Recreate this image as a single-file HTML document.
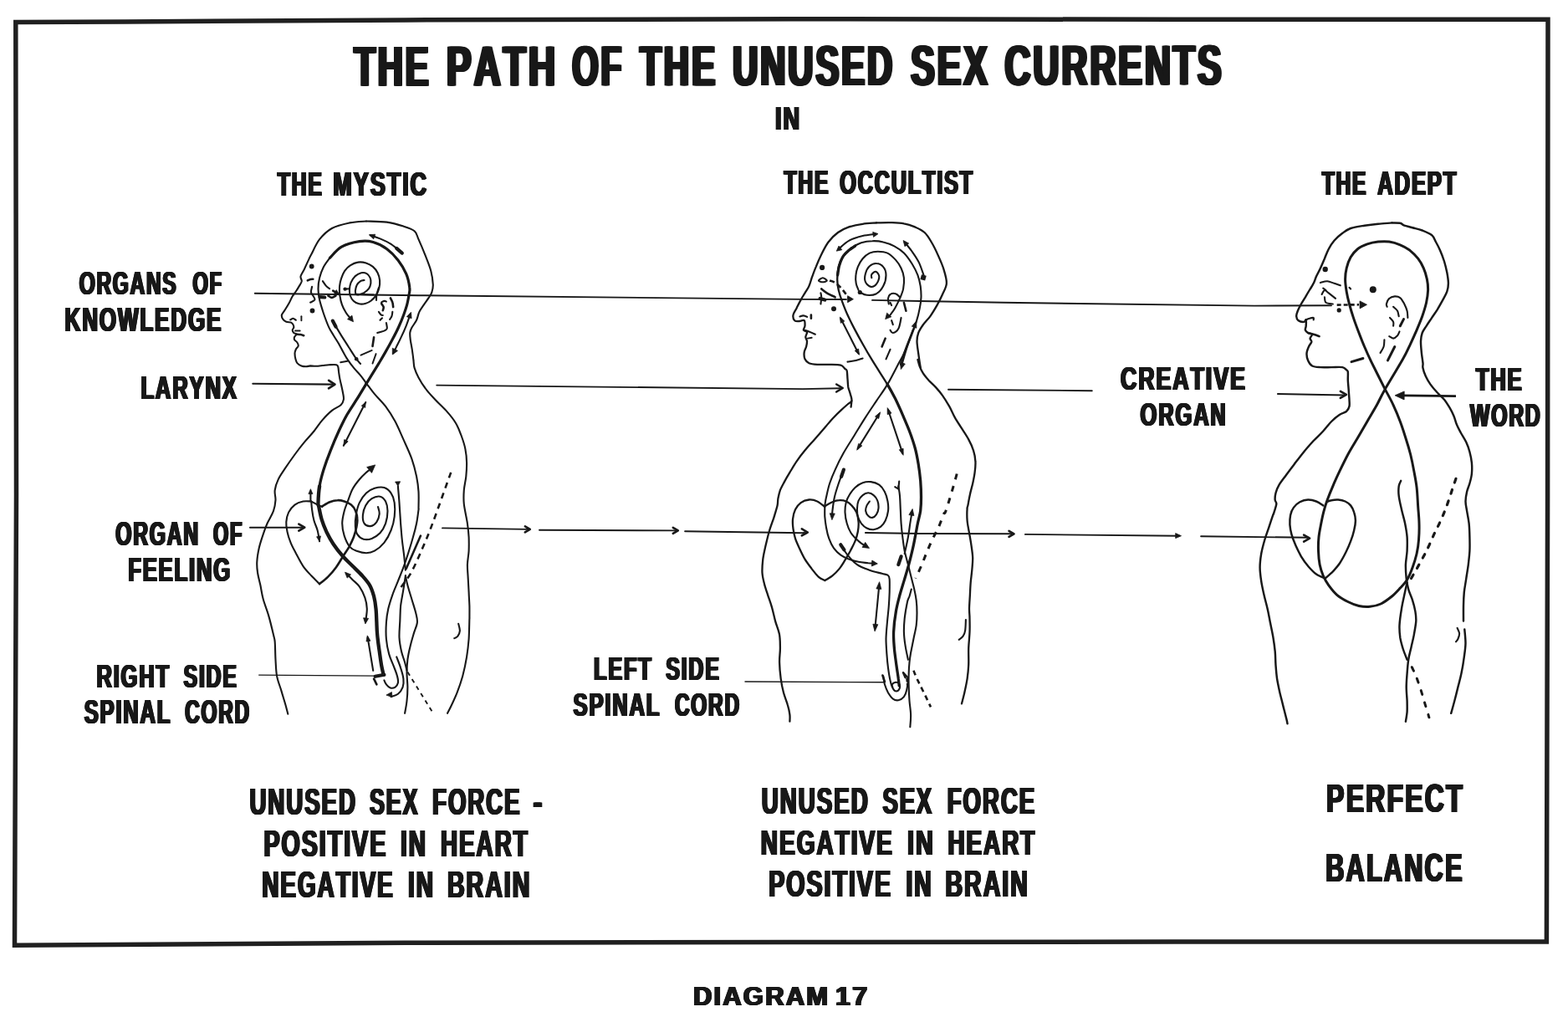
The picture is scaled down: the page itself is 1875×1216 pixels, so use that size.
<!DOCTYPE html>
<html lang="en">
<head>
<meta charset="utf-8">
<title>The Path of the Unused Sex Currents - Diagram 17</title>
<style>
html,body{margin:0;padding:0;background:#fff;}
body{width:1875px;height:1216px;overflow:hidden;}
svg{display:block;}
text{font-family:"Liberation Sans",sans-serif;font-weight:bold;fill:#181818;font-kerning:none;letter-spacing:0.07em;}
.o{fill:none;stroke:#181818;stroke-width:2.1;stroke-linecap:round;stroke-linejoin:round;}
.t{fill:none;stroke:#181818;stroke-width:1.9;stroke-linecap:round;stroke-linejoin:round;}
.k{fill:none;stroke:#181818;stroke-width:4.2;stroke-linecap:round;stroke-linejoin:round;}
.m{fill:none;stroke:#181818;stroke-width:2.6;stroke-linecap:round;stroke-linejoin:round;}
.a{fill:#181818;stroke:#181818;stroke-width:0.8;stroke-linejoin:round;}
.d{fill:#181818;stroke:none;}
.o3{fill:none;stroke:#181818;stroke-width:2.45;stroke-linecap:round;stroke-linejoin:round;}
.o2{fill:none;stroke:#181818;stroke-width:2.3;stroke-linecap:round;stroke-linejoin:round;}
.m2{fill:none;stroke:#181818;stroke-width:3.0;stroke-linecap:round;stroke-linejoin:round;}
</style>
</head>
<body>
<svg width="1875" height="1216" viewBox="0 0 1875 1216">
<defs>
<filter id="thT" x="-2%" y="-2%" width="104%" height="104%" filterUnits="objectBoundingBox" primitiveUnits="userSpaceOnUse" color-interpolation-filters="sRGB"><feOffset in="SourceGraphic" dx="2" dy="0" result="a"/><feOffset in="SourceGraphic" dx="-2" dy="0" result="b"/><feOffset in="SourceGraphic" dx="1" dy="0" result="c"/><feOffset in="SourceGraphic" dx="-1" dy="0" result="e"/><feMerge><feMergeNode in="a"/><feMergeNode in="b"/><feMergeNode in="c"/><feMergeNode in="e"/><feMergeNode in="SourceGraphic"/></feMerge></filter>
<filter id="thM" x="-2%" y="-2%" width="104%" height="104%" filterUnits="objectBoundingBox" primitiveUnits="userSpaceOnUse" color-interpolation-filters="sRGB"><feOffset in="SourceGraphic" dx="1.4" dy="0" result="a"/><feOffset in="SourceGraphic" dx="-1.4" dy="0" result="b"/><feOffset in="SourceGraphic" dx="0.7" dy="0" result="c"/><feOffset in="SourceGraphic" dx="-0.7" dy="0" result="e"/><feMerge><feMergeNode in="a"/><feMergeNode in="b"/><feMergeNode in="c"/><feMergeNode in="e"/><feMergeNode in="SourceGraphic"/></feMerge></filter>
<filter id="thS" x="-2%" y="-2%" width="104%" height="104%" filterUnits="objectBoundingBox" primitiveUnits="userSpaceOnUse" color-interpolation-filters="sRGB"><feOffset in="SourceGraphic" dx="1.3" dy="0" result="a"/><feOffset in="SourceGraphic" dx="-1.3" dy="0" result="b"/><feOffset in="SourceGraphic" dx="0.7" dy="0" result="c"/><feOffset in="SourceGraphic" dx="-0.7" dy="0" result="e"/><feMerge><feMergeNode in="a"/><feMergeNode in="b"/><feMergeNode in="c"/><feMergeNode in="e"/><feMergeNode in="SourceGraphic"/></feMerge></filter>
<filter id="thD" x="-2%" y="-2%" width="104%" height="104%" filterUnits="objectBoundingBox" primitiveUnits="userSpaceOnUse" color-interpolation-filters="sRGB"><feOffset in="SourceGraphic" dx="1.1" dy="0" result="a"/><feOffset in="SourceGraphic" dx="-1.1" dy="0" result="b"/><feOffset in="SourceGraphic" dx="0.6" dy="0" result="c"/><feOffset in="SourceGraphic" dx="-0.6" dy="0" result="e"/><feMerge><feMergeNode in="a"/><feMergeNode in="b"/><feMergeNode in="c"/><feMergeNode in="e"/><feMergeNode in="SourceGraphic"/></feMerge></filter>
</defs>
<rect width="1875" height="1216" fill="#fff"/>
<path d="M18.8 26.5L150 26L485 23.9L945 22.7L1405 23.3L1851 23.3L1850.6 590L1849.4 1126.1L1405 1126L945 1126.5L485 1127.3L17.5 1130.2L19.5 590Z" fill="none" stroke="#202020" stroke-width="5.5" stroke-linejoin="miter"/>
<g id="fig1">
<path class="o" d="M438 264.5C434.7 264.8 425.1 265 418.3 266.4C411.4 267.9 402.9 269.7 396.9 273C390.9 276.3 386.2 281 382.1 286.2C378 291.4 374.4 300.3 372.2 304.3C370.1 308.2 370.8 306.9 369.4 309.9C368 312.9 365.3 318.8 363.7 322.2C362 325.6 360 328.1 359.5 330.4C359.1 332.8 361 334.3 360.8 336.2C360.5 338.1 359.1 339.9 357.9 341.9C356.7 344 355.2 346.5 353.8 348.5C352.4 350.6 351 351.9 349.7 354.3C348.3 356.6 347.1 359.8 345.6 362.5C344.1 365.2 342.1 368.4 340.6 370.7C339.2 373.1 337.3 374.7 336.9 376.5C336.5 378.3 337.3 380.1 338.2 381.5C339 382.9 340.6 384.1 342.3 384.8C343.9 385.5 346.7 385.1 348 385.6C349.4 386.2 349.9 387.1 350.5 388.1C351 389.1 351.5 390.3 351.3 391.4C351.2 392.5 349.7 393.6 349.7 394.7C349.7 395.8 350.5 397.1 351.3 398C352.1 398.8 354.5 398.8 354.6 399.6C354.7 400.4 352.5 401.8 352.1 402.9C351.7 404 351.6 405.1 352.1 406.2C352.7 407.3 354.7 408.2 355.4 409.5C356.2 410.7 356.9 412.2 356.7 413.6C356.4 415 354.5 416.2 353.8 417.7C353.1 419.2 352.6 420.7 352.5 422.6C352.5 424.6 352.9 427.3 353.4 429.2C353.9 431.1 354.3 432.8 355.4 434.1C356.6 435.5 358.6 436.7 360.4 437.4C362.1 438.1 364.3 438.3 366.1 438.3C367.9 438.3 369.1 437.5 371.1 437.4C373 437.4 375.2 437.9 377.6 437.8C380.1 437.8 383.3 437.3 385.9 437C388.5 436.7 390.5 436.3 393.3 436.2C396 436.1 400.5 435.7 402.3 436.2C404.2 436.7 403.9 437.5 404.4 439.1C404.8 440.7 404.8 443.3 405.2 445.7C405.5 448 405.9 450.6 406.4 453.1C406.9 455.5 407.4 457.6 408.1 460.5C408.7 463.3 409.6 467.1 410.1 470C410.6 472.9 411.3 475.3 410.9 477.7C410.5 480.1 409.9 482.1 407.6 484.3C405.3 486.5 400.6 487.8 396.9 490.9C393.2 493.9 389 498.3 385.4 502.4C381.8 506.5 379.1 511.1 375.5 515.5C372 519.9 367.9 524 364 528.7C360.2 533.3 356.3 538.3 352.5 543.5C348.7 548.7 344.3 555 341 559.9C337.7 564.9 334.8 568.7 332.8 573.1C330.7 577.5 329.2 582.1 328.7 586.2C328.1 590.4 329.7 593.7 329.5 597.8C329.2 601.9 328.7 606.2 327 610.9C325.4 615.6 321.7 621.1 319.6 625.8C317.5 630.5 316.3 634 314.7 638.9C313 643.9 311 649.9 309.7 655.4C308.5 660.9 307.5 666.9 307.3 671.8C307 676.8 307.4 680.3 308.1 685C308.8 689.7 310.3 694.6 311.4 699.8C312.5 705 313 710.2 314.7 716.2C316.3 722.3 319.2 728.9 321.2 736.1C323.3 743.2 325.8 753.9 327 759.1C328.2 764.3 328.2 762.4 328.7 767.3C329.1 772.2 329.1 781.8 329.5 788.7C329.9 795.5 330 802.4 331.1 808.4C332.2 814.5 334.4 819.4 336.1 824.9C337.7 830.4 339.6 836.5 341 841.3C342.4 846.1 343.7 851.6 344.3 853.7"/>
<path class="o" d="M438 264.5C442.1 264.7 455.3 264.6 462.7 265.6C470.1 266.6 477 268.8 482.4 270.6C487.9 272.3 492.6 273.7 495.6 276.3C498.6 278.9 498.3 281.2 500.5 286.2C502.7 291.1 506.3 299.6 508.8 305.9C511.2 312.2 513.8 318.3 515.3 324C516.8 329.8 517.6 336.2 517.8 340.5C517.9 344.8 517 347.3 516.2 349.9C515.4 352.4 514.4 353.3 512.9 355.6C511.4 358 509.1 361 507.2 363.8C505.3 366.7 502.9 369.7 501.4 372.9C499.9 376 499.6 379.6 498.1 382.8C496.6 385.9 493.7 389.3 492.4 391.8C491.1 394.3 490.6 395.2 490.3 397.6C490 399.9 490.3 402.4 490.7 405.8C491.1 409.2 492.2 414 492.8 418.1C493.4 422.2 494 426.8 494.4 430.5C494.9 434.1 494.6 436.4 495.6 439.9C496.6 443.4 498.3 447.3 500.5 451.4C502.7 455.5 505.5 460.2 508.8 464.5C512 468.9 516.2 473.3 520.3 477.7C524.4 482.1 529.3 486.2 533.4 490.9C537.5 495.5 541.9 500.7 544.9 505.7C547.9 510.6 549.6 515.3 551.5 520.5C553.4 525.7 555.4 531.4 556.4 536.9C557.5 542.4 558 547.9 558.1 553.4C558.2 558.8 557.8 564.3 557.3 569.8C556.7 575.3 555.2 580.8 554.8 586.2C554.4 591.7 554.1 596.1 554.8 602.7C555.5 609.3 558 619.2 558.9 625.8C559.9 632.4 560.3 636.8 560.6 642.2C560.8 647.7 560.8 653.2 560.6 658.7C560.3 664.2 559.1 669.6 558.9 675.1C558.8 680.6 559.5 686.1 559.7 691.6C560 697.1 560.3 702.5 560.6 708C560.8 713.5 561.2 719.3 561.4 724.5C561.5 729.7 561.4 736.9 561.4 739.3C561.4 741.8 561.5 735.2 561.4 739.3C561.2 743.5 561.1 756.3 560.6 764C560 771.7 559.3 778 558.1 785.4C556.9 792.8 555.1 801.3 553.2 808.4C551.2 815.5 548.8 822.4 546.6 828.2C544.4 833.9 541.9 838.8 540 843C538.1 847.1 535.9 851.2 535.1 852.8"/>
<path class="k" style="stroke-width:3.2" d="M394.4 308.4C396.8 306.2 402.5 298.5 408.4 295.2C414.3 291.9 423.5 289.6 429.8 288.7C436.1 287.7 440.8 288 446.2 289.5C451.7 291 457.8 294.1 462.7 297.7C467.6 301.3 472 305.9 475.9 310.9C479.7 315.8 483.4 321.8 485.7 327.3C488.1 332.8 489.3 339.6 489.8 343.8C490.4 347.9 489.6 348.8 489.1 352.3C488.5 355.8 487.7 360.6 486.6 364.7C485.5 368.8 484.1 372.6 482.5 377C480.9 381.4 478.9 386.2 476.7 391C474.6 395.8 471.9 400.9 469.3 405.8C466.7 410.7 463.9 415.8 461.1 420.6C458.4 425.4 456.7 428.2 452.9 434.6C449 440.9 442.4 451.6 438 458.8"/>
<path class="k" style="stroke-width:3.3" d="M438 458.8C433.6 466 430.4 471.5 426.5 477.7C422.7 483.9 418.6 489.5 415 495.8C411.4 502.1 408.4 508.4 405.1 515.5C401.8 522.7 398.3 530.9 395.3 538.6C392.2 546.2 389.2 554.5 387 561.6C384.8 568.7 383.2 574.7 382.1 581.3"/>
<path class="k" style="stroke-width:4.3" d="M382.1 581.3C381 587.9 380.6 596.9 380.5 601.1C380.3 605.2 380.6 602.8 381.3 606.1C382 609.4 383.1 615.9 384.6 620.9C386.1 625.8 388 630.7 390.3 635.7C392.7 640.6 395.3 645.5 398.6 650.5C401.8 655.4 406.2 660.9 410.1 665.3C413.9 669.6 417.7 672.9 421.6 676.8C425.4 680.6 429.7 684.5 433.1 688.3C436.5 692.1 439.8 695.7 442.1 699.8C444.5 703.9 445.8 708.3 447.1 713C448.3 717.6 449 722.6 449.5 727.8C450.1 733 450.1 739 450.4 744.2C450.6 749.4 450.6 753.3 451.2 759.1C451.7 764.8 452.8 772.8 453.7 778.8C454.5 784.8 455.3 790.6 456.1 795.3C456.9 799.9 458.2 804.9 458.6 806.8"/>
<path class="k" d="M448.7 808.8L459.4 806.8"/>
<path class="m" d="M447.1 811.7L450.4 818.3"/>
<path class="o" d="M394.4 308.4C393.2 310.2 389.1 315.1 387 319.1C385 323.1 383.2 327.9 382.1 332.2C381 336.6 380.5 341 380.5 345.4C380.5 349.8 381 353.6 382.1 358.6C383.2 363.5 385.2 369.5 387 375C388.9 380.5 391.3 387 393.3 391.4C395.3 395.8 397 397.8 399 401.2C401.1 404.7 403.5 408.4 405.6 411.9C407.6 415.5 409.6 419.5 411.3 422.6C413.1 425.8 414.2 427.8 416.3 430.9C418.3 433.9 421.2 437.7 423.7 440.7C426.2 443.7 428.6 445.9 431.1 448.9C433.6 452 435.7 455.1 438.5 458.8C441.3 462.5 444.1 466.6 447.9 471.1C451.7 475.6 456.9 480.4 461.1 485.9C465.2 491.4 469 497.4 472.6 504C476.1 510.6 479.1 518 482.4 525.4C485.7 532.8 489.7 541 492.3 548.4C494.9 555.8 496.7 563.2 498.1 569.8C499.4 576.4 500.1 581.6 500.5 587.9C500.9 594.2 500.5 604.1 500.5 607.6C500.5 611.2 500.9 606.3 500.5 609.3C500.1 612.4 499.2 620.3 498.1 625.8C497 631.3 495.5 636.8 493.9 642.2C492.4 647.7 490.9 652.7 489 658.7C487.1 664.7 484.6 672.4 482.4 678.4C480.2 684.5 478 689.4 475.9 694.9C473.7 700.4 471.2 705.8 469.3 711.3C467.4 716.8 465.6 722.3 464.3 727.8C463.1 733.2 462.3 738.2 461.9 744.2C461.5 750.3 461.3 757.7 461.9 764C462.4 770.3 463.7 776.6 465.2 782.1C466.7 787.6 469.3 792.5 470.9 796.9C472.6 801.3 474.2 805.1 475 808.4C475.9 811.7 476.3 814.5 475.9 816.6C475.4 818.8 474.1 820.6 472.6 821.6C471.1 822.5 468.6 822.9 466.8 822.4C465 821.9 463.1 819.8 461.9 818.3C460.6 816.8 459.8 814.2 459.4 813.4"/>
<path class="o" d="M419.6 381.4C418.6 380.2 415.6 376.9 413.8 374C412 371.1 410.1 367.6 408.9 364.1C407.6 360.7 406.9 357 406.4 353.5C405.9 349.9 405.7 346.2 406 342.8C406.3 339.3 407 336 408.1 332.9C409.1 329.7 410.4 326.5 412.2 323.8C414 321.2 416.1 319 418.8 317.3C421.4 315.6 424.6 314 427.8 313.6C430.9 313.1 434.6 313.5 437.7 314.4C440.7 315.3 443.6 316.9 445.9 318.9C448.2 320.9 450.3 323.6 451.6 326.3C453 329.1 453.8 332.3 454.1 335.4C454.4 338.4 454 341.5 453.3 344.4C452.6 347.3 451.5 350.2 450 352.6C448.5 355.1 446.4 357.5 444.2 359.2C442.1 360.9 439.3 362.2 436.8 362.9C434.4 363.6 431.8 363.8 429.4 363.3C427.1 362.8 424.6 361.7 422.9 360C421.1 358.4 419.6 355.8 418.8 353.5C417.9 351.1 417.8 348.7 417.9 346.1C418.1 343.4 418.5 340.4 419.6 337.8C420.7 335.2 422.5 332.3 424.5 330.4C426.6 328.5 429.6 326.9 431.9 326.3C434.2 325.8 436.7 326.2 438.5 327.1C440.3 328.1 441.8 330.2 442.6 332.1C443.4 334 443.7 336.5 443.4 338.7C443.1 340.8 442.3 343.3 441 345.2C439.6 347.1 437.1 349 435.2 350.2C433.3 351.3 431 351.9 429.4 352.2C427.9 352.5 426.5 352.6 425.7 351.8C425 351.1 424.8 349.5 424.9 347.7C425.1 345.9 425.5 343 426.6 341.1C427.6 339.2 429.6 337.2 431.1 336.2C432.6 335.2 434.9 335.2 435.6 335"/>
<path class="a" d="M422.5 384.7L415.5 381.6L420.9 377.2Z"/>
<path class="o" d="M425.7 351.8L446.7 352.6"/>
<circle class="d" cx="372.7" cy="318.5" r="2.9"/>
<circle class="d" cx="373.5" cy="371.5" r="2.9"/>
<circle class="d" cx="412.6" cy="345.6" r="2.2"/>
<path class="o" d="M412.6 345.6L417.9 345.2"/>
<path class="m" d="M367.8 335.4C368.3 335.1 370 334.2 371.1 333.9C372.1 333.6 373.8 333.7 374.3 333.7"/>
<path class="o" d="M373.1 342.8C372.9 343.9 371.7 347.6 371.9 349.3C372.1 351.1 373.6 351.9 374.3 353.5C375.1 355 376.9 357 376.4 358.4C375.8 359.8 371.9 361.1 371.1 361.7"/>
<path class="o" d="M385.9 336.2C386.5 337.1 388.6 340.4 390 341.9C391.3 343.4 393.4 344.7 394.1 345.2"/>
<path class="m" d="M398.2 347.7L403.9 351"/>
<path class="a" d="M405.2 351.8L399.3 351.8L402.3 346.6Z"/>
<path class="k" d="M382.6 355.1L388.3 355.5"/>
<path class="m" d="M392.4 353.5C393.1 353.9 395 355.9 396.5 355.9C398.1 355.9 400.7 353.9 401.5 353.5"/>
<path class="o" d="M347.2 382.3C347.8 382.1 349.4 380.6 350.5 380.7C351.6 380.8 353.2 382.4 353.8 382.7"/>
<path class="t" d="M360.4 378.2L360.4 383.2"/>
<path class="t" d="M353 395.5L358.7 395.5"/>
<path class="m" d="M354.6 399.6C355.4 399.7 358.1 399.7 359.5 400C361 400.3 362.6 401 363.2 401.2"/>
<path class="o" d="M452.9 344.1C452.5 345.5 450.9 349.9 450.4 352.3C449.9 354.8 450.1 357.8 450 358.9"/>
<path class="m" d="M466.9 356.4C467.3 357.3 468.8 359.6 469.3 361.4C469.9 363.2 470 366.2 470.2 367.1"/>
<path class="o" d="M456.2 361.4C456.7 361.1 458.5 359.9 459.5 359.7C460.4 359.6 461.5 360.4 461.9 360.6"/>
<path class="m" d="M456.2 363C456.6 363.7 458.4 365.8 458.7 367.1C458.9 368.5 458 370.6 457.8 371.2"/>
<path class="o" d="M452.9 372.9C453.3 373.4 454.5 375.5 455.4 376.2C456.2 376.9 457.4 376.9 457.8 377"/>
<path class="o" d="M469.3 372.9C469.2 373.7 469.1 376.3 468.5 377.8C468 379.3 466.5 381.3 466.1 381.9"/>
<path class="o" d="M454.5 382.8L457 380.3"/>
<path class="o" d="M461.9 386.1C462.1 387.1 463 391.1 462.8 392.6C462.5 394.1 462.2 394.2 460.3 395.1C458.4 396 452.8 397.5 451.2 398"/>
<path class="m" d="M447.1 403.3L445.5 414"/>
<path class="t" d="M444.7 418.9L431.5 424.7"/>
<path class="t" d="M449.6 423.1L445.5 434.6"/>
<path class="t" d="M407.2 433.3L415.5 431.7"/>
<path class="o" d="M490.7 375.4C489.9 377.7 487.7 384.5 485.8 389.3C483.9 394.1 481.3 399.8 479.2 404.1C477.2 408.5 475 412.6 473.5 415.7C471.9 418.7 470.7 421.1 470.2 422.2"/>
<path class="a" d="M491.5 373.3L492.1 380.7L486.4 378.7Z"/>
<path class="a" d="M469.3 423.9L469.3 416.2L475.5 419.4Z"/>
<path class="o" d="M397.4 383.2C399 385.9 403.9 394.3 407.2 399.6C410.5 405 414 410.3 417.1 415.2C420.3 420.2 423.8 425.9 426.2 429.2C428.5 432.5 430.3 434 431.1 435"/>
<path class="k" d="M397.8 383.6L401.5 390.6"/>
<circle class="d" cx="426.2" cy="429.2" r="2.3"/>
<path class="o" d="M443 281.2C444.9 281.9 450.4 283.6 454.5 285.4C458.6 287.1 463.2 289.1 467.6 291.9C472 294.8 478.6 300.8 480.8 302.6"/>
<path class="a" d="M441.3 280.8L448.7 280.2L446.7 285.8Z"/>
<path class="k" d="M474.2 296.9L480.8 302.6"/>
<path class="o" d="M302.3 458.8L398.6 459.6"/>
<path class="m" d="M393 464.3L400.5 459.6L393.1 454.8"/>
<path class="o" d="M437.2 481L410.9 532.8"/>
<path class="a" d="M437.2 481L436.7 487.4L432.3 485.2Z"/>
<path class="a" d="M410.9 532.8L411.7 525.6L416.2 527.9Z"/>
<path class="o" d="M371.4 599.5L371.4 588"/>
<path class="a" d="M371.4 584.7L373.9 590.6L368.9 590.6Z"/>
<path class="o" d="M372.2 599.5C370.6 599.5 365.7 598.8 362.4 599.5C359.1 600.2 355.4 601.4 352.5 603.6C349.6 605.8 346.8 609.2 345.1 612.6C343.4 616.1 342.6 620.3 342.3 624.1C342 628 342.6 631.5 343.5 635.7C344.3 639.8 345.8 644.4 347.6 648.8C349.3 653.2 351.7 657.3 354.1 662C356.6 666.6 359.4 672.4 362.4 676.8C365.4 681.2 368.9 684.7 372.2 688.3C375.5 691.9 380.5 696.5 382.1 698.2"/>
<path class="m" d="M382.1 698.2C383.8 696.8 388.7 693.2 392 689.9C395.3 686.6 398.8 682.5 401.8 678.4C404.9 674.3 407.5 669.4 410.1 665.3C412.7 661.2 415.3 657.6 417.5 653.8C419.6 649.9 421.4 646.1 422.9 642.2C424.3 638.4 425.4 634.3 426.2 630.7C426.9 627.2 427.5 624.1 427.3 620.9C427.2 617.6 426.4 613.9 425.2 611C424 608.1 422.2 605.5 419.9 603.6C417.7 601.7 414.5 600.4 411.7 599.5C409 598.6 406.4 598 403.5 598.2C400.6 598.3 397.5 599.1 394.4 600.3C391.4 601.5 386.9 604.4 385.4 605.2"/>
<path class="o" d="M385.4 606.1C384.4 605.6 381.8 604.7 379.6 603.6C377.4 602.5 373.5 600.2 372.2 599.5"/>
<path class="o" d="M372.2 599.5C372.4 601.1 372.5 605.5 373.1 609.3C373.6 613.2 374.4 618.4 375.5 622.5C376.6 626.6 378.5 629.9 379.6 634C380.7 638.1 381.7 645 382.1 647.2"/>
<path class="a" d="M382.1 647.2L378.6 641.8L383.5 640.9Z"/>
<path class="o" d="M299 630.7L362.4 630.7"/>
<path class="m" d="M357.3 634.7L364.3 630.7L357.3 626.7"/>
<path class="o" d="M452 606.1C452.3 607.4 453.9 611.3 453.7 614.3C453.4 617.3 452.1 621.7 450.4 624.1C448.6 626.6 445.4 628.8 443 629.1C440.5 629.4 437.1 628 435.6 625.8C434.1 623.6 433.6 619.5 433.9 615.9C434.2 612.4 435.4 607.7 437.2 604.4C439 601.1 441.7 598 444.6 596.2C447.5 594.4 451.7 593.2 454.5 593.7C457.2 594.3 459.5 596.6 461.1 599.5C462.6 602.4 463.5 606.6 463.5 611C463.5 615.4 462.6 621.4 461.1 625.8C459.5 630.2 457.2 634.3 454.5 637.3C451.7 640.3 447.9 642.6 444.6 643.9C441.3 645.1 437.6 645.5 434.7 644.7C431.9 643.9 429 641.6 427.3 638.9C425.7 636.3 425.1 632.9 424.9 629.1C424.6 625.2 424.9 620.6 425.7 615.9C426.5 611.3 427.7 605.5 429.8 601.1C431.9 596.7 435 592.5 438 589.6C441 586.7 444.3 584.9 447.9 583.8C451.5 582.8 456.1 582.1 459.4 583C462.7 584 465.6 586.6 467.6 589.6C469.7 592.6 471.1 596.5 471.7 601.1C472.4 605.8 472.4 612.1 471.7 617.6C471.1 623 469.7 628.8 467.6 634C465.6 639.2 462.7 644.7 459.4 648.8C456.1 652.9 451.5 656.6 447.9 658.7C444.3 660.7 441.6 661.2 438 661.2C434.5 661.2 429.8 659.9 426.5 658.7C423.2 657.5 420.8 656.8 418.3 653.8C415.8 650.7 413.2 645.3 411.7 640.6C410.2 635.9 409.2 630.7 409.2 625.8C409.2 620.9 410.6 615.4 411.7 611C412.8 606.6 414.2 603.9 415.8 599.5C417.5 595.1 419.2 589.1 421.6 584.7C423.9 580.3 427.1 576.4 429.8 573.2C432.5 569.9 435.7 567 438 564.9C440.4 562.9 442.8 561.5 443.8 560.8"/>
<path class="a" d="M448.7 555.9L444.5 565.4L438.7 558.5Z"/>
<path class="o" d="M475.9 581.4C476.1 584.7 477 593.7 477.5 601.1C478 608.5 478.6 618.4 479.1 625.8C479.7 633.2 480.1 638.9 480.8 645.5C481.5 652.1 482.6 659.2 483.3 665.3C483.9 671.3 484.6 679 484.9 681.7"/>
<path class="a" d="M475.9 581.1L472.6 576.1L478.6 575.8Z"/>
<path class="k" d="M485.7 680.1L503 640.6" style="stroke-width:2.6"/>
<path class="o" d="M484.9 688.3C485.3 690.2 486.1 695.1 487.4 699.8C488.6 704.5 490.7 710.8 492.3 716.2C493.9 721.7 496.1 728.1 497.2 732.8C498.3 737.4 499.3 740.2 498.9 744.3C498.5 748.4 496.1 752.8 494.8 757.4C493.4 762.1 491.9 767 490.7 772.2C489.4 777.4 488.1 783.2 487.4 788.7C486.7 794.2 486.5 799.6 486.5 805.1C486.5 810.6 487.4 816.1 487.4 821.6C487.4 827.1 487.1 832.8 486.5 838C486 843.2 484.5 850.4 484.1 852.8"/>
<path class="o" d="M484.9 688.3C484.5 691 483.4 698.7 482.4 704.7C481.5 710.8 479.8 718.2 479.1 724.5C478.5 730.8 478.6 736.3 478.3 742.6C478 748.9 477.2 756.3 477.5 762.4C477.8 768.4 478.9 773.9 480 778.8C481.1 783.8 483 788.1 484.1 792C485.2 795.8 486.1 800.2 486.5 801.8"/>
<path class="o" d="M474.2 785.4C475 787.6 477.8 794.2 479.1 798.6C480.5 802.9 482 807.9 482.4 811.7C482.8 815.5 482.7 818.6 481.6 821.6C480.5 824.6 478.2 827.9 475.9 829.8C473.5 831.7 469 832.5 467.6 833.1"/>
<path class="a" d="M461.9 831.1L468.4 827.5L468.9 833.5Z"/>
<path class="m" d="M539.2 564.9C536 573.7 525.3 603.8 520.3 617.6C515.2 631.3 513.4 636.2 508.8 647.2C504.1 658.1 497.5 673.8 492.3 683.4C487.1 692.9 480 701.2 477.5 704.7" stroke-dasharray="7 6" style="stroke-linecap:butt"/>
<path class="t" d="M487.4 803.5L517 851.2" stroke-dasharray="5 5" style="stroke-linecap:butt"/>
<path class="o" d="M414.2 685.8C415.4 687.1 419 690.6 421.6 693.2C424.2 695.8 427.3 697.9 429.8 701.4C432.3 705 434.9 710.2 436.4 714.6C437.9 719 438.7 723.1 438.8 727.8C439 732.4 437.5 740.1 437.2 742.6"/>
<path class="a" d="M412.5 684.2L419.5 686.9L415.2 691.1Z"/>
<path class="a" d="M436.9 745.9L434.6 738.8L440.6 739.4Z"/>
<path class="o" d="M446.2 801.8L439.7 762.4"/>
<path class="a" d="M439.3 759.9L442.9 766.2L438 767Z"/>
<path class="t" d="M309.7 807.1L448.7 808.1" style="stroke-width:1.4"/>
<path class="o" d="M548.2 745.9C548.5 747.3 550 751.7 549.9 754.1C549.7 756.6 548.5 759.2 547.4 760.7C546.3 762.2 544 762.8 543.3 763.2"/>
</g>
<g id="fig2">
<path class="o2" d="M1048 266.4C1045.3 266.7 1037.1 266.9 1031.6 267.8C1026.1 268.6 1020.1 269.7 1015.1 271.4C1010.2 273.1 1006.1 274.9 1002 278C997.9 281 993.8 285.1 990.5 289.5C987.2 293.9 984.7 299.3 982.2 304.3C979.8 309.2 977.6 314.4 975.7 319.1C973.7 323.7 972.1 328.4 970.7 332.2C969.4 336.1 968.8 339.1 967.4 342.1C966.1 345.1 964.1 347.6 962.5 350.3C960.9 353.1 959.2 355.5 957.6 358.6C955.9 361.6 954.1 365.4 952.6 368.4C951.1 371.4 948.9 374.2 948.5 376.6C948.1 379.1 948.9 382 950.2 383.2C951.4 384.5 954 384 955.9 384C957.8 384 960.6 382.3 961.7 383.2C962.8 384.2 962.6 387.9 962.5 389.8C962.4 391.7 960.4 393.5 960.9 394.7C961.3 396 964.6 395.8 965 397.2C965.4 398.6 963.3 401.2 963.3 403C963.3 404.7 964.8 406 965 407.9C965.1 409.8 964.7 412.3 964.1 414.5C963.6 416.7 962 418.6 961.7 421.1C961.4 423.5 961.5 427.1 962.5 429.3C963.5 431.5 965 433.1 967.4 434.2C969.9 435.3 973.2 435.6 977.3 435.9C981.4 436.1 987.4 435.7 992.1 435.9C996.8 436 1002.2 435.9 1005.3 436.7C1008.3 437.5 1009 439.7 1010.2 440.8C1011.4 441.9 1012.1 441.1 1012.7 443.2C1013.2 445.2 1013.2 449.7 1013.5 453C1013.8 456.3 1013.8 459.9 1014.3 462.9C1014.9 465.9 1016.1 468.4 1016.8 471.1C1017.5 473.9 1019 477.3 1018.4 479.3C1017.9 481.4 1015.7 481.5 1013.5 483.5C1011.3 485.4 1008.3 488 1005.3 490.9C1002.2 493.7 998.7 497.2 995.4 500.7C992.1 504.3 989.1 508.1 985.5 512.2C982 516.3 977.9 521 974 525.4C970.2 529.8 966.1 534.2 962.5 538.6C958.9 542.9 955.6 547.3 952.6 551.7C949.6 556.1 946.9 560.8 944.4 564.9C941.9 569 939.7 572.8 937.8 576.4C935.9 579.9 934.1 583 932.9 586.2C931.7 589.5 931 593.1 930.4 596.1C929.9 599.1 930.3 601.1 929.6 604.3C928.9 607.6 927.1 613.1 926.3 615.9C925.5 618.6 925.8 617.6 924.7 620.9C923.6 624.2 921.2 630.4 919.7 635.7C918.2 640.9 916.9 646.6 915.6 652.1C914.4 657.6 913 663.1 912.3 668.6C911.7 674 911.2 680.1 911.5 685C911.8 689.9 912.9 693.8 914 698.2C915.1 702.5 916.6 706.7 918.1 711.3C919.6 716 921.5 720.9 923 726.1C924.5 731.3 925.6 737.1 927.1 742.6C928.6 748.1 931.1 753.6 932.1 759.1C933 764.6 932.9 770 932.9 775.5C932.9 781 931.9 785.9 932.1 792C932.2 798 932.9 805.7 933.7 811.7C934.5 817.7 935.6 822.9 937 828.2C938.4 833.4 940.7 838.6 941.9 843C943.2 847.3 944 851.2 944.4 854.5C944.8 857.8 944.4 861.3 944.4 862.7"/>
<path class="o2" d="M1018.4 479.3L1017.6 486.7"/>
<path class="o2" d="M1048 266.4C1050.8 266.4 1059 266 1064.5 266.1C1070 266.3 1076 266.4 1080.9 267.3C1085.9 268.1 1090 269.6 1094.1 271.4C1098.2 273.2 1102.3 274.9 1105.6 278C1108.9 281 1111.1 284.8 1113.8 289.5C1116.6 294.1 1119.6 300.4 1122 305.9C1124.5 311.4 1127 316.9 1128.6 322.4C1130.3 327.9 1132.2 333.9 1131.9 338.8C1131.6 343.8 1128.9 347.6 1127 352C1125.1 356.4 1122.9 360.7 1120.4 365.1C1117.9 369.5 1114.9 374.5 1112.2 378.3C1109.4 382.1 1106.3 384.9 1103.9 388.2C1101.6 391.4 1099.4 394.7 1098.2 398C1097 401.3 1096.5 403.8 1096.5 407.9C1096.5 412 1097.5 417.5 1098.2 422.7C1098.9 427.9 1100.2 436.4 1100.7 439.1"/>
<path class="o2" d="M1097.4 430C1097.8 431.4 1098.7 435.5 1099.8 438.2C1100.9 441 1102.2 443.7 1103.9 446.4C1105.7 449.2 1108.1 451.9 1110.5 454.7C1113 457.4 1116 459.9 1118.8 462.9C1121.5 465.9 1124.2 468.9 1127 472.8C1129.7 476.6 1132.7 481.5 1135.2 485.9C1137.7 490.3 1139.3 494.7 1141.8 499.1C1144.2 503.5 1147.3 507.9 1150 512.2C1152.7 516.6 1155.9 521 1158.2 525.4C1160.6 529.8 1162.6 534.2 1164 538.6C1165.4 542.9 1166.2 547.3 1166.4 551.7C1166.7 556.1 1166.2 560.5 1165.6 564.9C1165.1 569.3 1164.1 573.6 1163.2 578C1162.2 582.4 1160.8 586.8 1159.9 591.2C1158.9 595.6 1157.9 601.6 1157.4 604.3C1156.9 607.1 1156.7 604.7 1156.6 607.7C1156.4 610.7 1156.2 617.6 1156.6 622.5C1157 627.4 1158.2 632.4 1159 637.3C1159.9 642.2 1160.8 647.2 1161.5 652.1C1162.2 657 1163 662 1163.2 666.9C1163.3 671.8 1162.7 676.8 1162.3 681.7C1161.9 686.6 1161.1 691.6 1160.7 696.5C1160.3 701.4 1160.1 706.1 1159.9 711.3C1159.6 716.5 1159.1 723.2 1159 727.8C1159 732.5 1159.5 734.7 1159.5 739.3C1159.6 744 1159.8 749.8 1159.5 755.8C1159.3 761.8 1158.4 768.9 1158.2 775.5C1158 782.1 1158.5 789.2 1158.2 795.3C1157.9 801.3 1157.4 806.2 1156.6 811.7C1155.8 817.2 1154.4 823.2 1153.3 828.2C1152.2 833.1 1150.5 839.1 1150 841.3"/>
<path class="o" d="M1154.9 741C1154.8 743.2 1154.7 750.9 1154.1 754.1C1153.6 757.4 1152.9 758.9 1151.6 760.7C1150.4 762.5 1147.5 764.2 1146.7 764.8"/>
<path class="o2" d="M1018.4 296.1C1016.8 297.7 1011.2 302.1 1008.6 305.9C1005.9 309.8 1004 314.4 1002.8 319.1C1001.6 323.7 1001.2 329.2 1001.2 333.9C1001.2 338.5 1001.8 342.7 1002.8 347C1003.8 351.4 1005.1 355.3 1006.9 360.2C1008.7 365.1 1011 371.2 1013.5 376.6C1016 382.1 1018.7 387.3 1021.7 393.1C1024.7 398.8 1028 404.9 1031.6 411.2C1035.1 417.5 1038.2 422.9 1043.1 430.9C1048 439 1056.5 451.8 1061.2 459.6"/>
<path class="m2" style="stroke-width:3.3" d="M1061.2 459.6C1065.8 467.4 1068 471.7 1071.1 477.7C1074.1 483.7 1076.5 489.5 1079.3 495.8C1082 502.1 1085 508.9 1087.5 515.5C1090 522.1 1092.3 528.7 1094.1 535.3C1095.9 541.8 1097.1 548.4 1098.2 555C1099.3 561.6 1100.1 568.2 1100.7 574.7C1101.2 581.3 1101.5 588.4 1101.5 594.5C1101.5 600.5 1101.3 605.7 1100.7 610.9C1100 616.1 1098.3 621.1 1097.4 625.8C1096.4 630.5 1095.9 634 1094.9 638.9C1093.9 643.9 1093 649.4 1091.6 655.4C1090.2 661.4 1088.5 668.6 1086.7 675.1C1084.9 681.7 1082.7 688.8 1080.9 694.9C1079.1 700.9 1077.6 705.3 1076 711.3C1074.4 717.4 1072.6 723.7 1071.4 731.1C1070.1 738.5 1068.9 748.4 1068.6 755.8C1068.3 763.2 1068.9 768.9 1069.4 775.5C1070 782.1 1071.1 789.2 1071.9 795.3C1072.7 801.3 1073.8 807.6 1074.3 811.7C1074.9 815.8 1075 818.6 1075.2 819.9"/>
<path class="k" d="M1022.5 294.1C1021.3 295 1017.5 297.4 1015.1 299.3C1012.8 301.3 1010.5 302.9 1008.6 305.9C1006.6 308.9 1004.8 313.6 1003.6 317.4C1002.5 321.3 1002 327 1001.6 328.9" style="stroke-width:3.3"/>
<path class="o" d="M1018.4 296.1C1020.3 295.1 1025.8 291.6 1029.9 290.3C1034 289 1038.7 288.3 1043.1 288.2C1047.5 288 1051.9 288.4 1056.2 289.5C1060.6 290.5 1065.3 292.2 1069.4 294.4C1073.5 296.6 1077.4 299.1 1080.9 302.6C1084.5 306.2 1088 311.4 1090.8 315.8C1093.5 320.2 1095.7 324.6 1097.4 328.9C1099 333.3 1100 337.7 1100.7 342.1C1101.3 346.5 1101.6 350.9 1101.5 355.3C1101.3 359.6 1100.8 363.5 1099.8 368.4C1098.9 373.4 1097.5 379.1 1095.7 384.9C1093.9 390.6 1091.6 396.7 1089.1 403C1086.7 409.3 1083.4 417.4 1080.9 422.7C1078.5 428 1077.6 428.8 1074.3 434.9C1071.1 441.1 1065.6 452.2 1061.2 459.6C1056.8 467 1052.4 472.8 1048 479.3C1043.6 485.9 1039.3 492.2 1034.9 499.1C1030.5 505.9 1026.1 513.3 1021.7 520.5C1017.3 527.6 1012.4 535 1008.6 541.8C1004.7 548.7 1001.4 555.5 998.7 561.6C995.9 567.6 993.9 572.5 992.1 578C990.3 583.5 989 590.1 988 594.5C987 598.9 986.6 602.7 986.3 604.3"/>
<path class="o" d="M1028.3 349.5C1029.7 350.1 1033.2 352.5 1036.5 352.8C1039.8 353.1 1044.7 352.9 1048 351.2C1051.3 349.4 1054.3 345.8 1056.2 342.1C1058.2 338.4 1059.5 332.8 1059.5 328.9C1059.5 325.1 1058.2 321.4 1056.2 319.1C1054.3 316.7 1050.8 315.1 1048 315C1045.3 314.8 1042 316.2 1039.8 318.3C1037.6 320.3 1035.7 324.2 1034.9 327.3C1034 330.5 1033.8 334.6 1034.9 337.2C1036 339.8 1039.3 342.5 1041.4 342.9C1043.6 343.3 1046.4 341.7 1048 339.6C1049.7 337.6 1051.5 333.1 1051.3 330.6C1051.2 328.1 1048.7 325.2 1047.2 324.8C1045.7 324.4 1043.1 326.9 1042.3 328.1C1041.4 329.4 1042.3 331.6 1042.3 332.2"/>
<path class="o" d="M1026.6 347C1026.2 345.7 1024.2 341.8 1023.7 338.8C1023.1 335.8 1023 332.2 1023.4 328.9C1023.7 325.7 1024.5 322.4 1025.8 319.1C1027.2 315.8 1029.2 312 1031.6 309.2C1033.9 306.5 1036.8 304.1 1039.8 302.6C1042.8 301.2 1046.1 300.7 1049.7 300.7C1053.2 300.7 1057.6 300.9 1061.2 302.6C1064.7 304.3 1068.3 307.8 1071.1 310.9C1073.8 313.9 1076 317.2 1077.6 320.7C1079.3 324.3 1080.5 328.1 1080.9 332.2C1081.3 336.3 1080.9 341.3 1080.1 345.4C1079.3 349.5 1077.6 353.1 1076 356.9C1074.3 360.7 1072.1 365.1 1070.2 368.4C1068.3 371.7 1065.4 375.3 1064.5 376.6"/>
<path class="a" d="M1058.7 381.6L1060.6 374.2L1065.8 378.8Z"/>
<circle class="d" cx="983.1" cy="319.9" r="3.1"/>
<circle class="d" cx="997" cy="369.2" r="3"/>
<circle class="d" cx="1028.3" cy="349.5" r="2.6"/>
<path class="o" d="M1002.8 297.7C1004.9 296.1 1010.3 290.4 1015.1 287.8C1019.9 285.2 1026.4 283.4 1031.6 282.1C1036.8 280.8 1043.9 280.3 1046.4 279.9"/>
<path class="a" d="M1050 279.6L1044.5 283.4L1043.7 277.4Z"/>
<path class="a" d="M1000.3 300.2L1003 294.1L1006.8 298.7Z"/>
<path class="o" d="M1081.7 289.5C1083.3 291.4 1087.9 296.9 1090.8 301C1093.7 305.1 1096.7 309.3 1099 314.1C1101.3 318.9 1103.8 327.2 1104.8 329.8"/>
<path class="a" d="M1080.1 287.5L1086.7 291L1082 294.7Z"/>
<rect class="d" x="1101" y="328.9" width="6" height="6" transform="rotate(15 1103.9 332.2)"/>
<path class="o" d="M1005.3 380.8L1026.6 422.7"/>
<path class="a" d="M1004.4 379.1L1009.8 384L1005.3 386.3Z"/>
<path class="a" d="M1027.5 424.3L1022.2 419.4L1026.6 417.1Z"/>
<path class="o" d="M1094.9 386.5C1093.4 390.6 1088.7 402.7 1085.9 411.2C1083 419.7 1079.3 433.1 1078 437.5"/>
<path class="t" d="M1091.6 394.7C1090.1 398.6 1085 410.9 1082.6 417.8C1080.1 424.6 1077.8 432.8 1076.8 435.9"/>
<path class="a" d="M1095.7 384L1095.9 392.3L1090.3 390.2Z"/>
<path class="a" d="M1077.3 441.6L1076.5 433.4L1082.3 435.1Z"/>
<path class="o" d="M978.9 335.5C978.9 334.7 982.2 332.2 983.9 332.2C985.5 332.2 988.8 334.7 988.8 335.5C988.8 336.3 985.5 337.2 983.9 337.2C982.2 337.2 978.9 336.3 978.9 335.5Z"/>
<path class="m" d="M992.1 335.5C993.2 335.9 996.5 336.6 998.7 338C1000.9 339.4 1003.1 341.4 1005.3 343.8C1007.5 346.1 1010.2 349.8 1011.8 352C1013.5 354.2 1014.6 356.1 1015.1 356.9" stroke-dasharray="6 4" style="stroke-linecap:butt"/>
<path class="m" d="M982.2 345.4C983.3 346.2 986.1 348.7 988.8 350.3C991.6 352 997 354.4 998.7 355.3"/>
<path class="k" d="M980.6 356.9L986.3 358.6"/>
<path class="o" d="M981.4 350.3C981.6 351.2 982.2 353.1 982.2 355.3C982.2 357.5 981.6 362.1 981.4 363.5"/>
<path class="a" d="M1020.4 357.7L1013.6 361.7L1013.6 353.7Z"/>
<path class="m" d="M969.9 376.6L969.9 380.8"/>
<path class="o" d="M956.4 378.4C957.1 378.2 959.3 377.3 960.8 377.4C962.3 377.5 964.5 378.6 965.2 378.9"/>
<path class="o" d="M961.7 394.7C962.6 395 965.2 395.6 967.4 396.4C969.6 397.2 973.6 399.1 974.8 399.7"/>
<path class="t" d="M965.8 404.6L970.7 403.8"/>
<path class="o" d="M1062.8 363.5C1062.7 362.4 1061.7 358.8 1062 356.9C1062.3 355 1063 352.9 1064.5 352C1066 351 1069.1 350.6 1071.1 351.2C1073 351.7 1075.2 354.6 1076 355.3"/>
<path class="m" d="M1080.9 361.8L1083.4 371.7"/>
<path class="o" d="M1077.6 379.9C1077.1 382.1 1076 390.1 1074.3 393.1C1072.7 396.1 1069.4 397.8 1067.8 398C1066.1 398.3 1065 395.3 1064.5 394.7"/>
<path class="o" d="M1066.1 383.2L1067.8 388.2"/>
<path class="o" d="M1064.5 361.8L1066.1 365.1"/>
<path class="m" d="M1058.7 404.6L1054.6 414.5"/>
<path class="o" d="M1064.5 417.8L1059.5 429.3"/>
<path class="o" d="M1013.5 432.6C1015.1 432.3 1020.3 431.6 1023.4 430.9C1026.4 430.2 1030.2 428.9 1031.6 428.5"/>
<path class="m" d="M1000.2 468.5L1007.7 464L1000.2 459.5"/>
<path class="o" d="M1051.3 495L1025.8 536.1"/>
<path class="a" d="M1052.6 492.8L1050.7 500.6L1046.5 498Z"/>
<path class="a" d="M1024.7 538.2L1026.6 530.4L1030.8 533Z"/>
<path class="o" d="M1062 490L1079.3 541.8"/>
<path class="a" d="M1061.2 487.6L1066 494L1061.2 495.6Z"/>
<path class="a" d="M1080.1 544.3L1075.3 537.8L1080.1 536.3Z"/>
<path class="o" d="M1008.6 562.4C1007.6 565 1004.6 572.7 1002.8 578C1001 583.4 999.1 589 997.9 594.5C996.6 600 995.9 607.1 995.4 610.9C994.9 614.8 995.1 616.4 995.1 617.5"/>
<path class="k" d="M1008.9 561.6L1006.1 569.8"/>
<path class="a" d="M994.9 621.6L992.3 613.8L998.3 614.1Z"/>
<path class="o2" d="M986.3 606.1C984.8 605 980.5 600.9 977.3 599.5C974.2 598 970.7 597.2 967.4 597.5C964.1 597.8 960.3 599.1 957.6 601.1C954.8 603.1 952.6 606.1 951 609.3C949.4 612.6 948.4 617 948 620.9C947.6 624.7 948 628.5 948.5 632.4C949 636.2 949.8 640 951 643.9C952.2 647.7 954 651.3 955.9 655.4C957.8 659.5 960 664.4 962.5 668.6C965 672.7 968 676.5 970.7 680.1C973.5 683.6 976.3 687.6 978.9 689.9C981.6 692.3 985.1 693.4 986.3 694"/>
<path class="o2" d="M986.3 694C987.9 693.1 992.5 690.6 995.4 688.3C998.3 686 1001.2 683.1 1003.6 680.1C1006.1 677.1 1008 673.8 1010.2 670.2C1012.4 666.6 1014.7 662.5 1016.8 658.7C1018.8 654.8 1021 651 1022.5 647.2C1024 643.3 1025.1 639.5 1025.8 635.7C1026.5 631.8 1026.9 628 1026.6 624.1C1026.4 620.3 1025.5 615.9 1024.2 612.6C1022.8 609.3 1020.5 606.6 1018.4 604.4C1016.4 602.2 1014.3 600.5 1011.8 599.5C1009.4 598.4 1006.4 598 1003.6 598.2C1000.9 598.3 998.3 599.1 995.4 600.3C992.5 601.5 987.9 604.4 986.3 605.2"/>
<path class="o" d="M986.3 606.1C986.3 608 986.1 613.5 986.3 617.6C986.6 621.7 987.2 626.3 988 630.7C988.8 635.1 989.8 639.8 991.3 643.9C992.8 648 994.7 652.1 997 655.4C999.4 658.7 1002.2 661.4 1005.3 663.6C1008.3 665.8 1011.6 667.2 1015.1 668.6C1018.7 669.9 1022.8 671.1 1026.6 671.8C1030.5 672.6 1035 672.8 1038.2 673.2C1041.3 673.5 1044.3 673.7 1045.6 673.8"/>
<path class="a" d="M1049.3 674L1042.3 677L1042.8 670Z"/>
<path class="o" d="M1039.8 599.5C1039.3 600.3 1037.3 602.5 1036.5 604.4C1035.7 606.3 1034.9 608.9 1035.2 611C1035.5 613 1036.8 615.4 1038.2 616.7C1039.5 618.1 1041.4 619.2 1043.1 618.9C1044.7 618.6 1046.8 617 1048 615.1C1049.3 613.2 1050.3 610.4 1050.5 607.7C1050.7 605 1050.3 601.3 1049.3 598.7C1048.4 596 1046.6 593.6 1044.7 592.1C1042.9 590.5 1040.4 589.3 1038.2 589.3C1036 589.3 1033.5 590.5 1031.6 592.1C1029.7 593.6 1027.7 596 1026.6 598.7C1025.5 601.3 1025.1 604.5 1025 607.7C1024.9 610.8 1025 614.6 1025.8 617.6C1026.6 620.6 1028.2 623.5 1029.9 625.8C1031.7 628.1 1034 630.3 1036.5 631.5C1039 632.8 1042 633.5 1044.7 633.2C1047.5 632.9 1050.6 631.7 1053 629.9C1055.3 628.1 1057.2 625.7 1058.7 622.5C1060.2 619.3 1061.5 614.8 1062 611C1062.5 607.1 1062.2 603.3 1061.5 599.5C1060.8 595.6 1059.6 591.2 1057.9 588C1056.2 584.7 1054.1 581.7 1051.3 579.7C1048.6 577.8 1044.7 576.5 1041.4 576.1C1038.2 575.7 1034.7 576.1 1031.6 577.3C1028.4 578.4 1025.1 580.7 1022.5 583C1019.9 585.4 1017.7 588.4 1016 591.2C1014.2 594.1 1012.7 596.7 1011.8 600.3C1010.9 603.9 1010.4 608.4 1010.5 612.6C1010.7 616.9 1011.5 621.7 1012.7 625.8C1013.8 629.9 1015.8 634.3 1017.6 637.3C1019.4 640.3 1021.3 641.8 1023.4 643.9C1025.4 645.9 1028 648.1 1029.9 649.6C1031.9 651.1 1034 652.4 1034.9 652.9"/>
<path class="a" d="M1039.5 655.4L1031.1 654.4L1034.7 648.4Z"/>
<path class="o" d="M1005.3 651.3C1006.6 653.3 1010.2 659.6 1013.5 663.6C1016.8 667.6 1020.6 672.1 1025 675.1C1029.4 678.1 1034.9 679.9 1039.8 681.7C1044.7 683.5 1050.9 684.8 1054.6 685.8C1058.3 686.9 1060.5 686.7 1062 688C1063.5 689.2 1063.4 689.9 1063.7 693.2C1063.9 696.6 1063.8 702.8 1063.7 708C1063.5 713.2 1063.3 718.4 1062.8 724.5C1062.4 730.5 1061.4 737.7 1060.9 744.3C1060.3 750.9 1059.6 757.7 1059.5 764C1059.5 770.3 1060 776.3 1060.4 782.1C1060.8 787.9 1061.3 793.3 1062 798.6C1062.7 803.8 1063.5 809.2 1064.5 813.4C1065.4 817.5 1066.5 821 1067.8 823.2C1069 825.4 1070.6 826.5 1071.9 826.5C1073.2 826.5 1075.1 824.7 1075.7 823.2C1076.2 821.7 1075.9 818.7 1075.2 817.5C1074.4 816.2 1072.4 815.7 1071.1 815.8C1069.7 816 1067.5 817.1 1066.9 818.3C1066.4 819.5 1067.6 822.4 1067.8 823.2"/>
<path class="k" d="M1005.3 651.3L1009.4 657.4"/>
<path class="o" d="M1056.2 808.4C1056.5 810.1 1056.9 815 1057.9 818.3C1058.9 821.6 1060.4 825.3 1062 828.2C1063.7 831 1065.7 834.1 1067.8 835.6C1069.8 837.1 1072.1 837.6 1074.3 837.2C1076.5 836.8 1079.3 835.1 1080.9 833.1C1082.6 831 1083.4 828.4 1084.2 824.9C1085 821.3 1086.4 815 1085.9 811.7C1085.3 808.4 1081.7 806.2 1080.9 805.1"/>
<path class="m" d="M1055.4 807.6L1057.9 815"/>
<path class="m" d="M958.8 640.4L965.8 636.5L958.8 632.4"/>
<path class="o" d="M1051.3 699.8L1046.4 750.8"/>
<path class="a" d="M1051.6 695.7L1053.8 704.4L1047.9 703.9Z"/>
<path class="a" d="M1046.1 754.9L1043.9 746.2L1049.8 746.7Z"/>
<path class="o" d="M1074.3 581.4C1074.6 583.3 1075.6 588.2 1076 592.9C1076.4 597.6 1076.5 603.9 1076.8 609.3C1077.1 614.8 1077.2 620.3 1077.6 625.8C1078 631.3 1078.6 636.8 1079.3 642.2C1080 647.7 1080.6 653.2 1081.7 658.7C1082.8 664.2 1084.5 669.6 1085.9 675.1C1087.2 680.6 1088.7 686.6 1090 691.6C1091.2 696.5 1092.3 700.4 1093.3 704.7C1094.2 709.1 1095.2 713.2 1095.7 717.9C1096.3 722.6 1096.5 727.8 1096.5 732.7C1096.5 737.6 1096.4 742.3 1095.7 747.6C1095 752.8 1093.5 758.5 1092.4 764C1091.3 769.5 1090 775.8 1089.1 780.5C1088.3 785.1 1087.9 787.9 1087.5 792C1087.1 796.1 1086.8 800.2 1086.7 805.1C1086.5 810.1 1086.5 816.1 1086.7 821.6C1086.8 827.1 1087.1 832.5 1087.5 838C1087.9 843.5 1089 849.3 1089.1 854.5C1089.3 859.7 1088.5 866.8 1088.3 869.3"/>
<path class="o" d="M1070.2 582.2L1074.3 584.7L1075.2 575.6"/>
<path class="o" d="M1081.7 662C1082.4 658.7 1084.8 648.3 1085.9 642.2C1087 636.2 1087.6 630.7 1088.3 625.8C1089.1 620.9 1090.1 614.8 1090.5 612.6"/>
<path class="a" d="M1091.1 608.5L1092.9 616.6L1086.9 615.6Z"/>
<path class="k" d="M1074.3 675.1L1077.6 665.3"/>
<path class="o" d="M1089.8 704.6C1089.4 706 1088.3 710.5 1087.5 713C1086.7 715.5 1086 715.2 1085 719.6C1084.1 724 1082.4 733.3 1081.7 739.3C1081.1 745.4 1080.8 750.3 1080.9 755.8C1081.1 761.3 1081.7 766.8 1082.6 772.2C1083.4 777.7 1085.3 785.9 1085.9 788.7"/>
<path class="m2" d="M1144.2 566.5C1143.6 569 1141.6 576.1 1140.1 581.3C1138.6 586.5 1136.8 592.6 1135.2 597.8C1133.6 603 1131.4 609.8 1130.3 612.6C1129.2 615.3 1129.9 611.5 1128.6 614.3C1127.4 617 1125.1 624.1 1122.9 629.1C1120.7 634 1117.8 638.9 1115.5 643.9C1113.1 648.8 1111.1 653.5 1108.9 658.7C1106.7 663.9 1104.6 669.6 1102.3 675.1C1100 680.6 1096.1 688.8 1094.9 691.6" stroke-dasharray="7 8" style="stroke-linecap:butt"/>
<path class="m" d="M1092.4 801.8C1093.3 803.8 1095.4 809.2 1097.4 813.4C1099.3 817.5 1101.3 821.2 1103.9 826.5C1106.6 831.9 1111.5 842.3 1113 845.4" stroke-dasharray="6 5" style="stroke-linecap:butt"/>
<path class="m" d="M1080.1 804.3L1082.6 810.1"/>
<path class="t" d="M1084.2 811.7L1085 819.9" stroke-dasharray="3 3"/>
</g>
<g id="fig3">
<path class="o3" d="M1664.5 266.4C1661.7 266.7 1653.5 267.2 1648 267.8C1642.5 268.3 1637.1 268.9 1631.6 269.7C1626.1 270.6 1619.5 271.5 1615.1 273C1610.7 274.5 1608.6 276.3 1605.3 278.8C1602 281.2 1598.1 284.7 1595.4 287.8C1592.7 291 1590.7 294.1 1588.8 297.7C1586.9 301.3 1585.5 305.4 1583.9 309.2C1582.2 313 1580.6 317.2 1578.9 320.7C1577.3 324.3 1575.4 327.6 1574 330.6C1572.6 333.6 1572.1 336.1 1570.7 338.8C1569.4 341.6 1567.4 344.3 1565.8 347C1564.1 349.8 1562.5 352.5 1560.9 355.3C1559.2 358 1557.4 360.7 1555.9 363.5C1554.4 366.2 1552.8 369.2 1551.8 371.7C1550.8 374.2 1550 376.4 1550.2 378.3C1550.3 380.2 1551.1 382.1 1552.6 383.2C1554.1 384.3 1557.7 385 1559.2 384.9C1560.7 384.7 1561.3 381.6 1561.7 382.4C1562.1 383.2 1561.8 387.7 1561.7 389.8C1561.5 391.9 1560.4 393.4 1560.9 394.7C1561.3 396.1 1562.8 397.2 1564.1 398C1565.5 398.8 1568.7 398.6 1569.1 399.7C1569.5 400.8 1566.7 403.1 1566.6 404.6C1566.5 406.1 1568.5 407.1 1568.3 408.7C1568 410.4 1565.9 412.1 1565 414.5C1564 416.8 1562.6 420 1562.5 422.7C1562.4 425.4 1563 428.5 1564.1 430.9C1565.2 433.4 1566.6 436.1 1569.1 437.5C1571.5 438.9 1575.1 438.9 1578.9 439.1C1582.8 439.4 1587.7 439.1 1592.1 439.1C1596.5 439.1 1602.2 438.6 1605.3 439.1C1608.3 439.7 1609.1 441.5 1610.2 442.4C1611.3 443.4 1611.6 442.8 1611.8 444.8C1612.1 446.8 1611.7 451.1 1611.8 454.7C1612 458.2 1612.4 462.3 1612.7 466.2C1612.9 470 1613.3 474.4 1613.5 477.7C1613.6 481 1614 483.6 1613.5 485.9C1612.9 488.3 1612.1 490 1610.2 491.7C1608.3 493.3 1605 493.7 1602 495.8C1599 497.8 1595.4 500.7 1592.1 504C1588.8 507.3 1585.8 511.7 1582.2 515.5C1578.7 519.4 1574.6 522.9 1570.7 527C1566.9 531.2 1563 535.5 1559.2 540.2C1555.4 544.9 1551.3 550.3 1547.7 555C1544.1 559.7 1540.8 564 1537.8 568.2C1534.8 572.3 1531.7 576.1 1529.6 579.7C1527.5 583.2 1526.3 586.5 1525.5 589.5C1524.7 592.6 1524.5 595.6 1524.7 597.8C1524.8 600 1526.6 600 1526.3 602.7C1526 605.4 1523.7 612 1523 614.2C1522.3 616.4 1523.2 613.2 1522.2 615.9C1521.2 618.7 1518.9 625.8 1517.3 630.7C1515.6 635.7 1513.8 640.3 1512.3 645.5C1510.8 650.7 1509.2 656.5 1508.2 662C1507.3 667.5 1506.6 672.9 1506.6 678.4C1506.6 683.9 1507.4 689.4 1508.2 694.9C1509 700.4 1510.3 705.8 1511.5 711.3C1512.7 716.8 1514.4 722.3 1515.6 727.8C1516.9 733.3 1517.8 738.8 1518.9 744.3C1520 749.8 1521.2 755 1522.2 760.7C1523.2 766.5 1524.1 773.1 1524.7 778.8C1525.2 784.6 1525.1 789.8 1525.5 795.3C1525.9 800.7 1526.3 806.2 1527.1 811.7C1528 817.2 1529.2 822.7 1530.4 828.2C1531.7 833.6 1533.2 839.1 1534.5 844.6C1535.9 850.1 1537.8 857.6 1538.7 861.1C1539.5 864.5 1539.3 864.5 1539.5 865.2"/>
<path class="o3" d="M1664.5 266.4C1666.1 266.5 1671.9 266.2 1674.3 266.8C1676.8 267.3 1676.8 268.8 1679.3 269.7C1681.7 270.6 1685.6 271.2 1689.1 272.2C1692.7 273.2 1696.8 274 1700.7 275.5C1704.5 277 1709.4 278.9 1712.2 281.2C1714.9 283.6 1715.5 286.5 1717.1 289.5C1718.8 292.5 1720.4 295.5 1722 299.3C1723.7 303.2 1725.6 308.1 1727 312.5C1728.3 316.9 1729.4 321.3 1730.3 325.7C1731.1 330 1731.9 335 1731.9 338.8C1731.9 342.7 1731.4 345.4 1730.3 348.7C1729.2 352 1727.2 355 1725.3 358.6C1723.4 362.1 1720.9 366.5 1718.8 370.1C1716.6 373.6 1714.4 376.6 1712.2 379.9C1710 383.2 1707.5 386.8 1705.6 389.8C1703.7 392.8 1701.8 395 1700.7 398C1699.6 401 1699.2 404.1 1699 407.9C1698.9 411.7 1699.4 416.7 1699.8 421.1C1700.2 425.4 1701.2 431.1 1701.5 434.2C1701.8 437.3 1700.9 437.3 1701.5 439.9C1702 442.5 1703.3 446.4 1704.8 449.7C1706.3 453 1708.2 456.3 1710.5 459.6C1712.9 462.9 1716 466.5 1718.8 469.5C1721.5 472.5 1724.5 474.7 1727 477.7C1729.4 480.7 1731.6 484.3 1733.6 487.6C1735.5 490.9 1737.1 494.1 1738.5 497.4C1739.9 500.7 1740.4 504 1741.8 507.3C1743.1 510.6 1744.8 513.6 1746.7 517.2C1748.6 520.7 1751.5 524.8 1753.3 528.7C1755.1 532.5 1756.3 536.1 1757.4 540.2C1758.5 544.3 1759.5 549 1759.9 553.4C1760.3 557.7 1760.3 562.4 1759.9 566.5C1759.5 570.6 1758.4 574.5 1757.4 578C1756.4 581.6 1754.9 584.3 1754.1 587.9C1753.3 591.5 1752.5 595.6 1752.5 599.4C1752.5 603.2 1753.4 606.5 1754.1 610.9C1754.8 615.3 1756 620.6 1756.6 625.8C1757.1 631 1757.3 636.8 1757.4 642.2C1757.5 647.7 1757.7 653.2 1757.4 658.7C1757.1 664.2 1756.4 669.6 1755.8 675.1C1755.1 680.6 1754.1 686.1 1753.3 691.6C1752.5 697.1 1751.4 702.5 1750.8 708C1750.3 713.5 1750.1 718.7 1750 724.5C1749.9 730.2 1750 739.6 1750 742.6"/>
<path class="o3" d="M1751.3 752.5C1751.5 755.2 1752.5 763.5 1752.5 768.9C1752.4 774.4 1751.6 779.4 1750.8 785.4C1750 791.4 1748.8 799.1 1747.5 805.1C1746.3 811.2 1744.8 816.1 1743.4 821.6C1742.1 827.1 1740.7 832.8 1739.3 838C1737.9 843.2 1735.9 850.4 1735.2 852.8"/>
<path class="o" d="M1742.6 750.9C1743 752 1744.9 755.2 1745.1 757.4C1745.2 759.6 1744.1 762.4 1743.4 764C1742.7 765.7 1741.4 766.8 1741 767.3"/>
<path class="o3" d="M1656.2 465.4C1653.5 459.9 1643.9 441 1639.8 432.6C1635.7 424.1 1634 420.2 1631.6 414.5C1629.1 408.7 1627.2 403.8 1625 398C1622.8 392.3 1620.3 385.7 1618.4 379.9C1616.5 374.2 1614.9 368.7 1613.5 363.5C1612.1 358.3 1611 353.6 1610.2 348.7C1609.4 343.8 1608.6 338.5 1608.6 333.9C1608.6 329.2 1609.1 325.1 1610.2 320.7C1611.3 316.3 1612.9 311.4 1615.1 307.6C1617.3 303.7 1620.1 300.3 1623.4 297.7C1626.6 295.1 1630.8 293.4 1634.9 291.9C1639 290.5 1643.6 289.6 1648 289.1C1652.4 288.7 1656.8 288.5 1661.2 289.1C1665.6 289.7 1670.2 291.1 1674.3 292.8C1678.5 294.5 1682.3 296.6 1685.9 299.3C1689.4 302.1 1693 305.6 1695.7 309.2C1698.5 312.8 1700.5 316.6 1702.3 320.7C1704.1 324.8 1705.5 329.5 1706.4 333.9C1707.3 338.3 1707.7 342.4 1707.6 347C1707.4 351.7 1706.7 356.6 1705.6 361.8C1704.4 367.1 1702.6 372.8 1700.7 378.3C1698.7 383.8 1696.5 389 1694.1 394.7C1691.6 400.5 1688.6 407.1 1685.9 412.8C1683.1 418.6 1682.6 420.5 1677.6 429.3C1672.7 438 1661.5 456.2 1656.2 465.4C1651 474.5 1649.9 477.8 1646.4 484.3C1642.8 490.7 1638.7 497.4 1634.9 504C1631 510.6 1627.2 517.2 1623.4 523.8C1619.5 530.3 1615.4 536.9 1611.8 543.5C1608.3 550.1 1605 556.9 1602 563.2C1599 569.5 1596.2 575.6 1593.8 581.3C1591.3 587.1 1589 592.8 1587.2 597.8C1585.4 602.7 1584.3 606.2 1583.1 610.9C1581.8 615.6 1580.8 620.6 1579.8 625.8C1578.8 631 1577.5 636.8 1577 642.2C1576.4 647.7 1576.3 653.2 1576.5 658.7C1576.7 664.2 1577.2 670.2 1578.1 675.1C1579.1 680.1 1580.5 684.2 1582.2 688.3C1584 692.4 1586.1 696 1588.8 699.8C1591.6 703.6 1594.8 708 1598.7 711.3C1602.5 714.6 1607.5 717.3 1611.8 719.5C1616.2 721.7 1620.6 723.5 1625 724.5C1629.4 725.4 1633.8 725.7 1638.2 725.3C1642.5 724.9 1646.9 724.1 1651.3 722C1655.7 720 1660.6 716.1 1664.5 713C1668.3 709.8 1671.3 706.4 1674.3 703.1C1677.4 699.8 1680.1 697.3 1682.6 693.2C1685 689.1 1687.2 683.6 1689.1 678.4C1691.1 673.2 1692.8 667.5 1694.1 662C1695.3 656.5 1696.1 651.6 1696.5 645.5C1697 639.5 1697.2 632.4 1697 625.8C1696.9 619.2 1696.2 613.2 1695.7 606.1C1695.2 598.9 1694.9 590.1 1694.1 583C1693.3 575.8 1692 569.8 1690.8 563.2C1689.6 556.6 1688.3 550.1 1686.7 543.5C1685 536.9 1683 530.3 1680.9 523.8C1678.9 517.2 1676.8 510.6 1674.3 504C1671.9 497.4 1669.1 490.7 1666.1 484.3C1663.1 477.8 1657.9 468.5 1656.2 465.4" style="stroke-width:3"/>
<path class="o3" d="M1582.2 604.4C1580.9 603.6 1577 600.6 1574 599.5C1571 598.3 1567.4 597.4 1564.1 597.5C1560.9 597.6 1557.2 598.7 1554.3 600.3C1551.4 601.9 1548.7 604.3 1546.9 606.9C1545 609.5 1543.8 612.5 1543.1 615.9C1542.4 619.3 1542.2 623.6 1542.4 627.4C1542.7 631.3 1543.3 634.8 1544.4 638.9C1545.6 643.1 1547.4 647.7 1549.3 652.1C1551.3 656.5 1553.5 661.2 1555.9 665.3C1558.4 669.4 1561.1 673.2 1564.1 676.8C1567.2 680.3 1570.6 684.2 1574 686.6C1577.4 689.1 1582.9 690.8 1584.7 691.6"/>
<path class="o3" d="M1584.7 691.6C1586.2 690.2 1590.9 686.4 1593.8 683.4C1596.6 680.3 1599.4 677.3 1602 673.5C1604.6 669.6 1607.2 664.7 1609.4 660.3C1611.6 655.9 1613.5 651.6 1615.1 647.2C1616.8 642.8 1618.3 638.1 1619.2 634C1620.2 629.9 1620.9 626.1 1620.9 622.5C1620.9 618.9 1620.2 615.6 1619.2 612.6C1618.3 609.6 1616.9 606.6 1615.1 604.4C1613.3 602.2 1611 600.6 1608.6 599.5C1606.1 598.3 1603.1 597.7 1600.3 597.5C1597.6 597.3 1594.4 597.7 1592.1 598.2C1589.8 598.6 1587.3 599.9 1586.3 600.3"/>
<path class="o3" d="M1675.2 574.8C1674.8 575.9 1673.1 578.4 1672.7 581.4C1672.3 584.4 1672.1 588.2 1672.7 592.9C1673.2 597.6 1674.8 603.9 1676 609.3C1677.2 614.8 1679 620.3 1680.1 625.8C1681.2 631.3 1682.2 636.8 1682.6 642.2C1683 647.7 1682.8 653.2 1682.6 658.7C1682.3 664.2 1681.1 669.6 1680.9 675.1C1680.8 680.6 1681.2 686.6 1681.7 691.6C1682.3 696.5 1683 700.4 1684.2 704.7C1685.4 709.1 1687.8 713.5 1689.1 717.9C1690.5 722.3 1691.7 726.9 1692.4 731.1C1693.1 735.2 1693.5 738 1693.3 742.6C1693 747.3 1691.7 753.9 1690.8 759.1C1689.8 764.3 1688.6 768.9 1687.5 773.9C1686.4 778.8 1685 783.5 1684.2 788.7C1683.4 793.9 1683 799.6 1682.6 805.1C1682.2 810.6 1681.7 816.1 1681.7 821.6C1681.7 827.1 1682.4 833.1 1682.6 838C1682.7 843 1682.8 847.1 1682.6 851.2C1682.3 855.3 1681.2 860.8 1680.9 862.7"/>
<path class="o3" d="M1682.6 696.5C1682 699 1680.4 706.1 1679.3 711.3C1678.2 716.5 1676.9 721.7 1676 727.8C1675 733.8 1673.8 741.8 1673.5 747.6C1673.2 753.3 1673.7 757.7 1674.3 762.4C1675 767 1676.3 771.1 1677.6 775.5C1679 779.9 1681.7 786.5 1682.6 788.7"/>
<path class="k" d="M1741 572.3C1740.3 574.3 1738.3 580.1 1736.8 584.6C1735.3 589.1 1733.6 594.7 1731.9 599.4C1730.3 604.1 1728.8 608.2 1727 612.6C1725.2 617 1723.1 621.7 1721.2 625.8C1719.3 629.9 1717.5 632.9 1715.5 637.3C1713.4 641.7 1711.1 647.4 1708.9 652.1C1706.7 656.8 1704.8 660.6 1702.3 665.3C1699.8 669.9 1696.5 675.7 1694.1 680.1C1691.6 684.5 1688.6 689.7 1687.5 691.6" stroke-dasharray="5 9" style="stroke-width:3.2"/>
<path class="k" d="M1688.3 797.7C1689.1 799.5 1691.5 803.9 1693.3 808.4C1695 812.9 1697.2 819.4 1699 824.9C1700.8 830.4 1702.3 835.8 1703.9 841.3C1705.6 846.8 1708.1 855 1708.9 857.8" stroke-dasharray="5 10" style="stroke-width:3"/>
<circle class="d" cx="1584.7" cy="322" r="3.2"/>
<circle class="d" cx="1641.8" cy="346.2" r="4"/>
<circle class="d" cx="1601.2" cy="370.9" r="2.6"/>
<path class="m" d="M1598.7 364.6L1625 364.3" stroke-dasharray="5 3" style="stroke-linecap:butt"/>
<path class="a" d="M1634.5 364.3L1626.1 368.9L1626 359.9Z"/>
<path class="o" d="M1578.9 338C1580.3 337.7 1584.4 336.2 1587.2 336.3C1589.9 336.5 1592.8 338 1595.4 338.8C1598 339.6 1601.6 340.9 1602.8 341.3"/>
<path class="o" d="M1580.6 352C1581.1 351.2 1582.5 347.3 1583.9 347C1585.3 346.8 1586.6 348.7 1588.8 350.3C1591 352 1595.7 355.8 1597 356.9"/>
<path class="o" d="M1583.9 355.3C1584.2 356.4 1583.9 360.5 1585.5 361.8C1587.2 363.2 1592.4 363.2 1593.8 363.5"/>
<path class="o" d="M1582.2 344.6L1585.5 347"/>
<path class="o" d="M1613.5 343.8L1615.1 345.4"/>
<path class="o" d="M1561.7 382.4C1562.4 382.1 1564.3 381.2 1565.8 380.8C1567.3 380.3 1569.9 379.7 1570.7 379.9C1571.5 380.2 1570.7 382 1570.7 382.4"/>
<path class="m" d="M1564.1 398C1565.2 398.3 1568.5 399 1570.7 399.7C1573 400.4 1576.5 401.7 1577.6 402.1"/>
<path class="o" d="M1658.7 366.8C1658.6 366.2 1657.5 365.1 1657.9 363.5C1658.3 361.8 1659.5 358.4 1661.2 356.9C1662.8 355.4 1665.6 354.6 1667.8 354.4C1670 354.3 1672.4 354.6 1674.3 356.1C1676.3 357.6 1677.9 360.9 1679.3 363.5C1680.6 366.1 1681.9 369 1682.6 371.7C1683.3 374.5 1683.3 378.6 1683.4 379.9"/>
<path class="o" d="M1666.1 366.8C1666.9 367.6 1670 369.8 1671.1 371.7C1672.1 373.6 1672.4 377.2 1672.7 378.3"/>
<path class="o" d="M1662 379.9C1662.7 380.8 1665.4 383.2 1666.1 384.9C1666.8 386.5 1666.1 389 1666.1 389.8"/>
<path class="m2" d="M1678.5 381.6L1674.3 389.8"/>
<path class="o" d="M1661.2 402.1C1662 402.5 1664.5 404.7 1666.1 404.6C1667.8 404.5 1669.8 402.7 1671.1 401.3C1672.3 399.9 1673.1 397.2 1673.5 396.4"/>
<path class="o" d="M1655.4 406.2C1655.3 407.6 1655.4 411.9 1654.6 414.5C1653.8 417.1 1651.2 420.6 1650.5 421.9"/>
<path class="m2" d="M1667.8 414.5L1659.5 430.9"/>
<path class="m2" d="M1616 432.6L1629.9 428.5"/>
<path class="m" d="M1602.8 475.8L1609.9 471.9L1602.9 467.8"/>
<path class="k" d="M1741 473.6L1677.6 472.9" style="stroke-width:2.6;stroke-linecap:butt"/>
<path class="a" d="M1668.1 472.8L1679.2 467.9L1679.1 477.9Z"/>
<path class="m" d="M1559.1 647.6L1566.1 643.6L1559.1 639.6"/>
</g>
<g id="lines">
<path class="t" d="M304.8 350.7L500 353.2L960 357.9L1012 358"/>
<path class="t" d="M1043 358.9L1100 360L1200 361.8L1500 365.6L1592 365.2"/>
<path class="t" d="M522.2 460.6L960 465.1L1005 464.2"/>
<path class="t" d="M1134 465.7L1305.8 467.2"/>
<path class="t" d="M1527.9 471L1608 472.5"/>
<path class="t" d="M529 631.4L632 632.9"/>
<path class="m" d="M627.8 636.3L633.8 632.9L627.9 629.3"/>
<path class="t" d="M645 633.8L809 634.4"/>
<path class="m" d="M804.8 637.9L810.8 634.4L804.8 630.9"/>
<path class="t" d="M819.1 635.3L960 637.3L962 636.5"/>
<path class="t" d="M1034.9 637L1100 638L1211 638.3"/>
<path class="m" d="M1206.5 641.8L1212.5 638.3L1206.5 634.8"/>
<path class="t" d="M1225.9 638.9L1410 640.7"/>
<path class="a" d="M1412.5 640.7L1405.7 643.6L1405.7 637.6Z"/>
<path class="t" d="M1436.1 641.3L1565 642.8"/>
<path class="t" d="M891 815L1057.9 815.8" style="stroke-width:1.4"/>
</g>
<g filter="url(#thT)">
<text y="102" font-size="67.9" transform="rotate(-0.08 941 79)"><tspan x="423.5" textLength="92" lengthAdjust="spacingAndGlyphs">THE</tspan> <tspan x="534" textLength="133.1" lengthAdjust="spacingAndGlyphs">PATH</tspan> <tspan x="684.3" textLength="61.8" lengthAdjust="spacingAndGlyphs">OF</tspan> <tspan x="765.2" textLength="92.9" lengthAdjust="spacingAndGlyphs">THE</tspan> <tspan x="876.2" textLength="193.8" lengthAdjust="spacingAndGlyphs">UNUSED</tspan> <tspan x="1089.2" textLength="94.5" lengthAdjust="spacingAndGlyphs">SEX</tspan> <tspan x="1201.5" textLength="262.1" lengthAdjust="spacingAndGlyphs">CURRENTS</tspan></text>
</g>
<g filter="url(#thS)">
<text y="155.3" font-size="39.5"><tspan x="927" textLength="30.9" lengthAdjust="spacingAndGlyphs">IN</tspan></text>
<text y="233.5" font-size="40.7"><tspan x="331.7" textLength="55" lengthAdjust="spacingAndGlyphs">THE</tspan> <tspan x="398.2" textLength="113.9" lengthAdjust="spacingAndGlyphs">MYSTIC</tspan></text>
<text y="232.3" font-size="40.1"><tspan x="937.5" textLength="54.6" lengthAdjust="spacingAndGlyphs">THE</tspan> <tspan x="1004.3" textLength="160.5" lengthAdjust="spacingAndGlyphs">OCCULTIST</tspan></text>
<text y="232.7" font-size="40.7"><tspan x="1580.8" textLength="54.3" lengthAdjust="spacingAndGlyphs">THE</tspan> <tspan x="1647.2" textLength="96.1" lengthAdjust="spacingAndGlyphs">ADEPT</tspan></text>
<text y="352.3" font-size="39.7"><tspan x="94.7" textLength="117.6" lengthAdjust="spacingAndGlyphs">ORGANS</tspan> <tspan x="230.4" textLength="36.3" lengthAdjust="spacingAndGlyphs">OF</tspan></text>
<text y="395.7" font-size="40.6"><tspan x="77.6" textLength="188.6" lengthAdjust="spacingAndGlyphs">KNOWLEDGE</tspan></text>
<text y="476.5" font-size="39.5"><tspan x="168.4" textLength="116.2" lengthAdjust="spacingAndGlyphs">LARYNX</tspan></text>
<text y="652.3" font-size="40.1"><tspan x="138.3" textLength="100.5" lengthAdjust="spacingAndGlyphs">ORGAN</tspan> <tspan x="255.1" textLength="35.9" lengthAdjust="spacingAndGlyphs">OF</tspan></text>
<text y="695" font-size="40.1"><tspan x="153.2" textLength="123.9" lengthAdjust="spacingAndGlyphs">FEELING</tspan></text>
<text y="821.7" font-size="39.5"><tspan x="115.4" textLength="88.4" lengthAdjust="spacingAndGlyphs">RIGHT</tspan> <tspan x="219.6" textLength="65" lengthAdjust="spacingAndGlyphs">SIDE</tspan></text>
<text y="865" font-size="40.3"><tspan x="100.8" textLength="104.3" lengthAdjust="spacingAndGlyphs">SPINAL</tspan> <tspan x="221.3" textLength="78.5" lengthAdjust="spacingAndGlyphs">CORD</tspan></text>
<text y="813.2" font-size="39"><tspan x="710.1" textLength="70.5" lengthAdjust="spacingAndGlyphs">LEFT</tspan> <tspan x="796.2" textLength="65.5" lengthAdjust="spacingAndGlyphs">SIDE</tspan></text>
<text y="856.4" font-size="39"><tspan x="685.6" textLength="104.7" lengthAdjust="spacingAndGlyphs">SPINAL</tspan> <tspan x="807" textLength="78.8" lengthAdjust="spacingAndGlyphs">CORD</tspan></text>
<text y="465.8" font-size="38.8"><tspan x="1340" textLength="150.7" lengthAdjust="spacingAndGlyphs">CREATIVE</tspan></text>
<text y="508.6" font-size="39.5"><tspan x="1363.6" textLength="104" lengthAdjust="spacingAndGlyphs">ORGAN</tspan></text>
<text y="467.1" font-size="39.7"><tspan x="1764.7" textLength="56.9" lengthAdjust="spacingAndGlyphs">THE</tspan></text>
<text y="509.7" font-size="39.4"><tspan x="1758.1" textLength="85.4" lengthAdjust="spacingAndGlyphs">WORD</tspan></text>
</g>
<g filter="url(#thM)">
<text y="973.8" font-size="44"><tspan x="298.4" textLength="128.5" lengthAdjust="spacingAndGlyphs">UNUSED</tspan> <tspan x="442" textLength="59.4" lengthAdjust="spacingAndGlyphs">SEX</tspan> <tspan x="517.1" textLength="106.3" lengthAdjust="spacingAndGlyphs">FORCE</tspan> <tspan x="637.5" textLength="13.3" lengthAdjust="spacingAndGlyphs">-</tspan></text>
<text y="1023.5" font-size="43.6"><tspan x="315.4" textLength="147.8" lengthAdjust="spacingAndGlyphs">POSITIVE</tspan> <tspan x="479" textLength="32" lengthAdjust="spacingAndGlyphs">IN</tspan> <tspan x="527.1" textLength="105.5" lengthAdjust="spacingAndGlyphs">HEART</tspan></text>
<text y="1073.4" font-size="44.5"><tspan x="313.2" textLength="158.4" lengthAdjust="spacingAndGlyphs">NEGATIVE</tspan> <tspan x="487.9" textLength="32" lengthAdjust="spacingAndGlyphs">IN</tspan> <tspan x="535" textLength="100.4" lengthAdjust="spacingAndGlyphs">BRAIN</tspan></text>
<text y="972.6" font-size="44.5"><tspan x="910.7" textLength="129" lengthAdjust="spacingAndGlyphs">UNUSED</tspan> <tspan x="1055.4" textLength="60.7" lengthAdjust="spacingAndGlyphs">SEX</tspan> <tspan x="1132.8" textLength="106.3" lengthAdjust="spacingAndGlyphs">FORCE</tspan></text>
<text y="1021.9" font-size="43.3"><tspan x="909.8" textLength="158.9" lengthAdjust="spacingAndGlyphs">NEGATIVE</tspan> <tspan x="1085" textLength="32.9" lengthAdjust="spacingAndGlyphs">IN</tspan> <tspan x="1133.4" textLength="105.9" lengthAdjust="spacingAndGlyphs">HEART</tspan></text>
<text y="1071.7" font-size="44.6"><tspan x="919.2" textLength="147.8" lengthAdjust="spacingAndGlyphs">POSITIVE</tspan> <tspan x="1083.4" textLength="32" lengthAdjust="spacingAndGlyphs">IN</tspan> <tspan x="1130.5" textLength="100.4" lengthAdjust="spacingAndGlyphs">BRAIN</tspan></text>
<text y="971.1" font-size="47.8"><tspan x="1586.1" textLength="164.8" lengthAdjust="spacingAndGlyphs">PERFECT</tspan></text>
<text y="1053.8" font-size="47.8"><tspan x="1585.2" textLength="165.4" lengthAdjust="spacingAndGlyphs">BALANCE</tspan></text>
</g>
<g filter="url(#thD)">
<text y="1201.5" font-size="31.1"><tspan x="828.9" textLength="163.5" lengthAdjust="spacingAndGlyphs">DIAGRAM</tspan> <tspan x="999.1" textLength="40.3" lengthAdjust="spacingAndGlyphs">17</tspan></text>
</g>
</svg>
</body>
</html>
